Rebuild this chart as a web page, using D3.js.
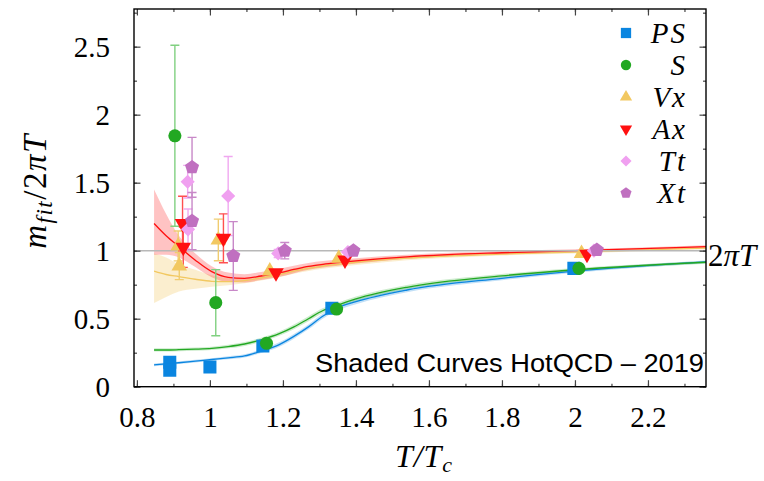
<!DOCTYPE html>
<html>
<head>
<meta charset="utf-8">
<script src="https://cdn.jsdelivr.net/npm/d3@7"></script>
<style>
  body { margin: 0; background: #fff; }
  svg { display: block; }
</style>
</head>
<body>
<svg id="chart" width="764" height="481"></svg>
<script>
// ---- data ----
const psT = [0.89, 0.89, 1.0, 1.145, 1.334, 1.997];
const psM = [0.179, 0.121, 0.145, 0.30, 0.577, 0.87];
const psE = [0, 0, 0, 0, 0, 0];

const sT = [0.904, 1.016, 1.155, 1.347, 2.011];
const sM = [1.845, 0.618, 0.319, 0.571, 0.870];
const sE = [0.665, 0.243, 0, 0, 0];

const vxT = [0.913, 0.916, 1.023, 1.164, 1.353, 2.018];
const vxM = [1.035, 0.887, 1.079, 0.85, 0.944, 0.98];
const vxE = [0.11, 0.10, 0.153, 0, 0, 0];

const axT = [0.925, 0.927, 1.037, 1.181, 1.37, 2.033];
const axM = [1.20, 1.025, 1.091, 0.838, 0.932, 0.974];
const axE = [0.2, 0.148, 0.18, 0, 0, 0];

const ttT = [0.939, 0.94, 1.05, 1.187, 1.378, 2.052];
const ttM = [1.507, 1.157, 1.402, 0.98, 0.99, 1.0];
const ttE = [0.12, 0.15, 0.29, 0.03, 0, 0];

const xtT = [0.951, 0.951, 1.064, 1.205, 1.393, 2.06];
const xtM = [1.613, 1.218, 0.961, 1.0, 1.0, 1.005];
const xtE = [0.22, 0.21, 0.253, 0.06, 0.02, 0.02];

// HotQCD shaded curves, common temperature grid
const curveT = [0.847, 0.88, 0.915, 0.96, 1.005, 1.05, 1.095, 1.14, 1.19, 1.23, 1.27, 1.31, 1.35, 1.4, 1.54, 1.8, 2.0, 2.36];
const axMid = [1.20, 1.11, 1.03, 0.93, 0.846, 0.804, 0.797, 0.814, 0.838, 0.862, 0.885, 0.90, 0.912, 0.925, 0.955, 0.985, 1.0, 1.03];
const axLo  = [0.97, 0.97, 0.95, 0.88, 0.805, 0.77, 0.767, 0.784, 0.808, 0.835, 0.86, 0.876, 0.889, 0.905, 0.94, 0.973, 0.99, 1.02];
const axHi  = [1.45, 1.27, 1.11, 0.98, 0.886, 0.839, 0.827, 0.844, 0.868, 0.889, 0.91, 0.924, 0.935, 0.945, 0.97, 0.997, 1.01, 1.04];
const vxMid = [0.85, 0.825, 0.81, 0.79, 0.775, 0.772, 0.78, 0.80, 0.825, 0.85, 0.87, 0.887, 0.90, 0.915, 0.945, 0.975, 0.99, 1.02];
const vxLo  = [0.615, 0.66, 0.70, 0.72, 0.735, 0.745, 0.76, 0.78, 0.805, 0.83, 0.85, 0.867, 0.88, 0.895, 0.93, 0.965, 0.98, 1.01];
const vxHi  = [0.98, 0.95, 0.90, 0.86, 0.82, 0.80, 0.80, 0.815, 0.845, 0.87, 0.89, 0.907, 0.92, 0.935, 0.96, 0.985, 1.0, 1.03];
const sMid  = [0.27, 0.27, 0.272, 0.276, 0.282, 0.295, 0.314, 0.345, 0.39, 0.44, 0.50, 0.56, 0.60, 0.645, 0.731, 0.815, 0.86, 0.915];
const sHalf = [0.012, 0.012, 0.012, 0.012, 0.012, 0.013, 0.014, 0.015, 0.016, 0.017, 0.018, 0.018, 0.018, 0.018, 0.016, 0.014, 0.012, 0.01];
const psMid = [0.16, 0.168, 0.176, 0.188, 0.20, 0.212, 0.226, 0.262, 0.31, 0.37, 0.44, 0.52, 0.58, 0.625, 0.711, 0.797, 0.85, 0.918];
const psHalf = [0.01, 0.01, 0.01, 0.01, 0.01, 0.011, 0.012, 0.014, 0.016, 0.017, 0.018, 0.018, 0.018, 0.018, 0.016, 0.014, 0.012, 0.01];

const xTicks = [0.8, 1, 1.2, 1.4, 1.6, 1.8, 2, 2.2];
const xMinor = d3.range(8, 24).map(d => d / 10);
const yTicks = [0, 0.5, 1, 1.5, 2, 2.5];
const yMinor = d3.range(0, 12).map(d => d / 4);

// ---- layout ----
const svg = d3.select("#chart");
const L = 134, R = 706, T = 9, B = 386.7;
const x = d3.scaleLinear().domain([0.792, 2.359]).range([L, R]);
const y = d3.scaleLinear().domain([0, 2.777]).range([B, T]);

const col = {
  ps: "#0a85e0", s: "#22a822", vx: "#f2c860", ax: "#ff1010", tt: "#f0a0f0", xt: "#c070c0"
};
const errCol = {
  ps: "#60b0f0", s: "#80d080", vx: "#f0cc70", ax: "#ff5050", tt: "#f0a8f0", xt: "#c888c8"
};

const plot = svg.append("g");
plot.append("clipPath").attr("id", "clip")
  .append("rect").attr("x", L).attr("y", T).attr("width", R - L).attr("height", B - T);
const inner = plot.append("g").attr("clip-path", "url(#clip)");

// ---- shaded bands ----
const bands = [
  { lo: psMid.map((v, i) => v - psHalf[i]), hi: psMid.map((v, i) => v + psHalf[i]), mid: psMid, c: col.ps, op: 0.25 },
  { lo: sMid.map((v, i) => v - sHalf[i]), hi: sMid.map((v, i) => v + sHalf[i]), mid: sMid, c: col.s, op: 0.22 },
  { lo: vxLo, hi: vxHi, mid: vxMid, c: col.vx, op: 0.3 },
  { lo: axLo, hi: axHi, mid: axMid, c: col.ax, op: 0.25 }
];
const area = d3.area().curve(d3.curveMonotoneX)
  .x(d => x(d.t)).y0(d => y(d.lo)).y1(d => y(d.hi));
const line = d3.line().curve(d3.curveMonotoneX)
  .x(d => x(d.t)).y(d => y(d.v));

bands.forEach(b => {
  inner.append("path")
    .datum(curveT.map((t, i) => ({ t: t, lo: b.lo[i], hi: b.hi[i] })))
    .attr("d", area)
    .attr("fill", b.c).attr("fill-opacity", b.op);
});
bands.forEach(b => {
  inner.append("path")
    .datum(curveT.map((t, i) => ({ t: t, v: b.mid[i] })))
    .attr("d", line)
    .attr("fill", "none").attr("stroke", b.c).attr("stroke-width", 1.3);
});

// 2 pi T reference line
inner.append("line")
  .attr("x1", L).attr("x2", R).attr("y1", y(1)).attr("y2", y(1))
  .attr("stroke", "#b8b8b8").attr("stroke-width", 1.6);

// ---- markers ----
const pentagon = {
  draw(ctx, size) {
    const r = Math.sqrt(size / 2.378);
    for (let k = 0; k < 5; k++) {
      const a = -Math.PI / 2 + k * 2 * Math.PI / 5;
      if (k === 0) ctx.moveTo(r * Math.cos(a), r * Math.sin(a));
      else ctx.lineTo(r * Math.cos(a), r * Math.sin(a));
    }
    ctx.closePath();
  }
};

const series = [
  { key: "ps", t: psT, m: psM, e: psE, sym: d3.symbolSquare, size: 170, rot: 0, label: "PS" },
  { key: "s", t: sT, m: sM, e: sE, sym: d3.symbolCircle, size: 135, rot: 0, label: "S" },
  { key: "vx", t: vxT, m: vxM, e: vxE, sym: d3.symbolTriangle, size: 105, rot: 0, label: "Vx" },
  { key: "ax", t: axT, m: axM, e: axE, sym: d3.symbolTriangle, size: 105, rot: 180, label: "Ax" },
  { key: "tt", t: ttT, m: ttM, e: ttE, sym: d3.symbolSquare, size: 100, rot: 45, label: "Tt" },
  { key: "xt", t: xtT, m: xtM, e: xtE, sym: pentagon, size: 130, rot: 0, label: "Xt" }
];

const cap = 4.5;
series.forEach(s => {
  const pts = s.t.map((t, i) => ({ t: t, m: s.m[i], e: s.e[i] })).filter(d => d.e > 0);
  const g = inner.append("g").attr("stroke", errCol[s.key]).attr("stroke-width", 1.4);
  pts.forEach(d => {
    g.append("line").attr("x1", x(d.t)).attr("x2", x(d.t))
      .attr("y1", y(d.m - d.e)).attr("y2", y(d.m + d.e));
    [d.m - d.e, d.m + d.e].forEach(v => {
      g.append("line").attr("x1", x(d.t) - cap).attr("x2", x(d.t) + cap)
        .attr("y1", y(v)).attr("y2", y(v));
    });
  });
});

series.forEach(s => {
  inner.append("g").selectAll("path")
    .data(s.t.map((t, i) => ({ t: t, m: s.m[i] })))
    .join("path")
    .attr("d", d3.symbol().type(s.sym).size(s.size))
    .attr("transform", d => `translate(${x(d.t)},${y(d.m)}) rotate(${s.rot})`)
    .attr("fill", col[s.key]);
});

// ---- axes (inward ticks on all four sides) ----
const serif = "'Liberation Serif', 'DejaVu Serif', serif";
function styleAxis(g) {
  g.select(".domain").remove();
  g.selectAll(".tick line").attr("stroke", "#444").attr("stroke-width", 1.2);
  g.selectAll("text").attr("font-family", serif)
    .attr("font-size", 29).attr("fill", "#000");
}
const fmt = d => String(d);

svg.append("g").attr("transform", `translate(0,${B})`)
  .call(d3.axisBottom(x).tickValues(xMinor).tickSize(-3).tickFormat(""))
  .call(styleAxis);
svg.append("g").attr("transform", `translate(0,${B})`)
  .call(d3.axisBottom(x).tickValues(xTicks).tickSize(-6.5).tickFormat(fmt))
  .call(styleAxis)
  .call(g => g.selectAll("text").attr("y", 40).attr("dy", 0));
svg.append("g").attr("transform", `translate(0,${T})`)
  .call(d3.axisTop(x).tickValues(xMinor).tickSize(-3).tickFormat(""))
  .call(styleAxis);
svg.append("g").attr("transform", `translate(0,${T})`)
  .call(d3.axisTop(x).tickValues(xTicks).tickSize(-6.5).tickFormat(""))
  .call(styleAxis);

svg.append("g").attr("transform", `translate(${L},0)`)
  .call(d3.axisLeft(y).tickValues(yMinor).tickSize(-3).tickFormat(""))
  .call(styleAxis);
svg.append("g").attr("transform", `translate(${L},0)`)
  .call(d3.axisLeft(y).tickValues(yTicks).tickSize(-6.5).tickFormat(fmt))
  .call(styleAxis)
  .call(g => g.selectAll("text").attr("x", -24).attr("dy", "0.34em"));
svg.append("g").attr("transform", `translate(${R},0)`)
  .call(d3.axisRight(y).tickValues(yMinor).tickSize(-3).tickFormat(""))
  .call(styleAxis);
svg.append("g").attr("transform", `translate(${R},0)`)
  .call(d3.axisRight(y).tickValues(yTicks).tickSize(-6.5).tickFormat(""))
  .call(styleAxis);

// frame
svg.append("rect").attr("x", L).attr("y", T).attr("width", R - L).attr("height", B - T)
  .attr("fill", "none").attr("stroke", "#000").attr("stroke-width", 1.4);

// ---- texts ----
svg.append("text").attr("x", 315).attr("y", 372)
  .attr("font-family", "'Liberation Sans', sans-serif").attr("font-size", 25)
  .attr("textLength", 389).attr("lengthAdjust", "spacingAndGlyphs")
  .text("Shaded Curves HotQCD \u2013 2019");

const rl = svg.append("text").attr("x", 708).attr("y", 266)
  .attr("font-family", serif).attr("font-size", 31);
rl.append("tspan").text("2");
rl.append("tspan").attr("font-style", "italic").text("\u03c0T");

const xl = svg.append("text").attr("x", 424).attr("y", 467)
  .attr("text-anchor", "middle").attr("font-family", serif).attr("font-size", 32)
  .attr("font-style", "italic").attr("letter-spacing", 1);
xl.append("tspan").text("T/T");
xl.append("tspan").attr("font-size", 22).attr("dy", 5).text("c");

const yl = svg.append("text").attr("transform", "translate(46,191) rotate(-90)")
  .attr("text-anchor", "middle").attr("font-family", serif).attr("font-size", 33)
  .attr("letter-spacing", 1.5);
yl.append("tspan").attr("font-style", "italic").text("m");
yl.append("tspan").attr("font-style", "italic").attr("font-size", 23).attr("dy", 6).text("fit");
yl.append("tspan").attr("dy", -6).text("/2");
yl.append("tspan").attr("font-style", "italic").text("\u03c0T");

// legend
const legend = svg.append("g");
series.forEach((s, i) => {
  const cy = 33 + i * 32;
  legend.append("path")
    .attr("d", d3.symbol().type(s.sym).size(s.size * 0.62))
    .attr("transform", `translate(626,${cy}) rotate(${s.rot})`)
    .attr("fill", col[s.key]);
  legend.append("text").attr("x", 687).attr("y", cy + 10)
    .attr("text-anchor", "end").attr("font-family", serif).attr("font-size", 29)
    .attr("font-style", "italic").attr("letter-spacing", 2).text(s.label);
});
</script>
</body>
</html>
